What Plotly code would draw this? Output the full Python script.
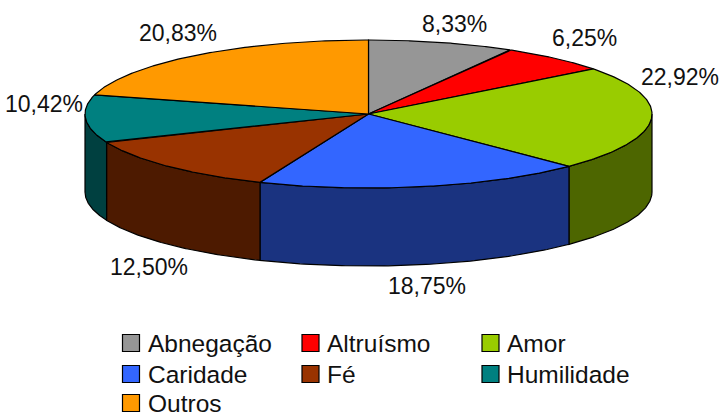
import numpy as np
import plotly.graph_objects as go

categories = ["Abnegação", "Altruísmo", "Amor", "Caridade", "Fé", "Humilidade", "Outros"]
values = [8.33, 6.25, 22.92, 18.75, 12.50, 10.42, 20.83]
top_colors = ["#969696", "#FF0000", "#99CC00", "#3366FF", "#993300", "#008080", "#FF9900"]
side_colors = ["#4B4B4B", "#800000", "#4D6600", "#1A3380", "#4D1A00", "#004040", "#804D00"]

# Page-pixel layout of the drawing
CX, CY, RX, RY, DEPTH = 368.5, 114, 283.5, 74, 78
label_pos = [(454, 24), (584, 38), (680, 77), (427, 286), (149, 267), (44, 104), (178, 33)]
legend_cols = [(122.5, 145.5), (302, 325), (482, 505)]
legend_rows = [343, 374, 403]
FONT = "Liberation Sans, Arial, sans-serif"
FS_LABEL = 23
FS_LEGEND = 24.5
SW = 8.5

total = sum(values)
edges = np.concatenate([[0], np.cumsum(values)]) / total * 360


def ell(t):
    t = np.radians(t)
    return CX + RX * np.sin(t), CY - RY * np.cos(t)


fig = go.Figure()

# Side wall: visible only for the front half of the ellipse (90..270 degrees)
for i, (a, b) in enumerate(zip(edges[:-1], edges[1:])):
    lo, hi = max(a, 90), min(b, 270)
    if hi <= lo:
        continue
    t = np.linspace(lo, hi, 80)
    x, y = ell(t)
    fig.add_trace(go.Scatter(
        x=np.concatenate([x, x[::-1], x[:1]]),
        y=np.concatenate([y, y[::-1] + DEPTH, y[:1]]),
        mode="lines", fill="toself", fillcolor=side_colors[i],
        line=dict(color="black", width=1.2), hoverinfo="skip", showlegend=False))

# Top face
for i, (a, b) in enumerate(zip(edges[:-1], edges[1:])):
    t = np.linspace(a, b, 120)
    x, y = ell(t)
    fig.add_trace(go.Scatter(
        x=np.concatenate([[CX], x, [CX]]),
        y=np.concatenate([[CY], y, [CY]]),
        mode="lines", fill="toself", fillcolor=top_colors[i],
        line=dict(color="black", width=1.2), name=categories[i],
        hoverinfo="name", showlegend=False))

annotations = []
shapes = []
for v, (lx, ly) in zip(values, label_pos):
    annotations.append(dict(x=lx, y=ly, xref="x", yref="y", showarrow=False,
                            text=f"{v:.2f}%".replace(".", ","),
                            font=dict(family=FONT, size=FS_LABEL, color="#111111")))

for i, name in enumerate(categories):
    sx, tx = legend_cols[i % 3]
    ry = legend_rows[i // 3]
    shapes.append(dict(type="rect", xref="x", yref="y", x0=sx, x1=sx + 2 * SW,
                       y0=ry - SW, y1=ry + SW, fillcolor=top_colors[i],
                       line=dict(color="black", width=1.2)))
    annotations.append(dict(x=tx, y=ry, xref="x", yref="y", showarrow=False,
                            xanchor="left", text=name,
                            font=dict(family=FONT, size=FS_LEGEND, color="#111111")))

fig.update_layout(
    width=720, height=416, margin=dict(l=0, r=0, t=0, b=0),
    paper_bgcolor="white", plot_bgcolor="white", showlegend=False,
    xaxis=dict(range=[0, 720], visible=False, fixedrange=True),
    yaxis=dict(range=[416, 0], visible=False, fixedrange=True),
    annotations=annotations, shapes=shapes,
)

fig.write_html("out.html", config={"displayModeBar": False},
               post_script="document.body.style.margin='0';document.body.style.overflow='hidden';")
